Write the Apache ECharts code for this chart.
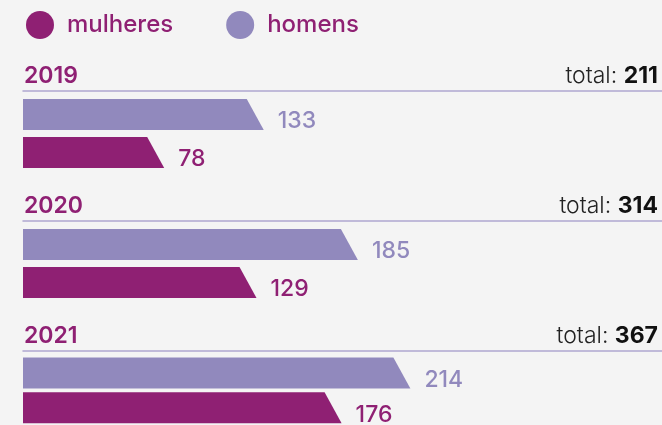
<!DOCTYPE html>
<html>
<head>
<meta charset="utf-8">
<script src="https://cdn.jsdelivr.net/npm/echarts@6/dist/echarts.min.js"></script>
<style>
  html, body { margin: 0; padding: 0; background: #f4f4f4; }
  #chart { width: 662px; height: 425px; }
</style>
</head>
<body>
<div id="chart"></div>
<script>
var years = ['2019', '2020', '2021']
var mulheres = [78, 129, 176]
var homens = [133, 185, 214]
var totals = [211, 314, 367]

var MAG = '#8f2073'
var LIL = '#9189bd'
var FONT = 'Inter, "Noto Sans", sans-serif'

function renderItem(labelColor) {
  return function (params, api) {
    var v = api.value(0)
    var c = api.value(1)
    var start = api.coord([0, c])
    var end = api.coord([v, c])
    var h = 31
    var s = 17
    var y0 = end[1] - h / 2
    var y1 = end[1] + h / 2
    return {
      type: 'group',
      children: [
        {
          type: 'polygon',
          shape: { points: [[start[0], y0], [end[0] - s, y0], [end[0], y1], [start[0], y1]] },
          style: { fill: api.visual('color') }
        },
        {
          type: 'text',
          x: end[0] + 14,
          y: end[1] + 7,
          style: {
            text: String(v),
            fill: labelColor,
            font: '500 23px ' + FONT,
            verticalAlign: 'middle'
          }
        }
      ]
    }
  }
}

var lineTops = [91, 221, 351]
var grids = []
var xAxes = []
var yAxes = []
var series = []
var titles = []

years.forEach(function (yr, i) {
  grids.push({ left: 23, right: 0, top: lineTops[i] + 4.5, height: 76 })
  xAxes.push({
    gridIndex: i,
    type: 'value',
    min: 0,
    max: 353,
    position: 'top',
    offset: 4.5,
    axisLine: { show: true, lineStyle: { color: '#aea7cf', width: 1.5 } },
    axisTick: { show: false },
    axisLabel: { show: false },
    splitLine: { show: false }
  })
  yAxes.push({
    gridIndex: i,
    type: 'category',
    inverse: true,
    show: false,
    data: ['homens', 'mulheres']
  })
  series.push({
    name: 'homens',
    type: 'custom',
    xAxisIndex: i,
    yAxisIndex: i,
    itemStyle: { color: LIL },
    renderItem: renderItem(LIL),
    encode: { x: 0, y: 1 },
    data: [[homens[i], 0]]
  })
  series.push({
    name: 'mulheres',
    type: 'custom',
    xAxisIndex: i,
    yAxisIndex: i,
    itemStyle: { color: MAG },
    renderItem: renderItem(MAG),
    encode: { x: 0, y: 1 },
    data: [[mulheres[i], 1]]
  })
  titles.push({
    text: yr,
    left: 24,
    top: lineTops[i] - 26,
    padding: 0,
    textStyle: { color: MAG, fontSize: 23, fontWeight: 600, fontFamily: FONT }
  })
  titles.push({
    text: '{a|total: }{b|' + totals[i] + '}',
    right: 4,
    top: lineTops[i] - 26,
    padding: 0,
    textStyle: {
      rich: {
        a: { color: '#222', fontSize: 23, fontWeight: 300, fontFamily: FONT },
        b: { color: '#111', fontSize: 23, fontWeight: 700, fontFamily: FONT }
      }
    }
  })
})

var chart = echarts.init(document.getElementById('chart'))
chart.setOption({
  backgroundColor: '#f4f4f4',
  animation: false,
  title: titles,
  legend: {
    left: 26,
    top: 11,
    padding: 0,
    icon: 'circle',
    itemWidth: 28,
    itemHeight: 28,
    itemGap: 53,
    data: ['mulheres', 'homens'],
    textStyle: { color: MAG, fontSize: 24, fontWeight: 500, fontFamily: FONT, padding: [0, 0, 0, 8] }
  },
  grid: grids,
  xAxis: xAxes,
  yAxis: yAxes,
  series: series
})
</script>
</body>
</html>
